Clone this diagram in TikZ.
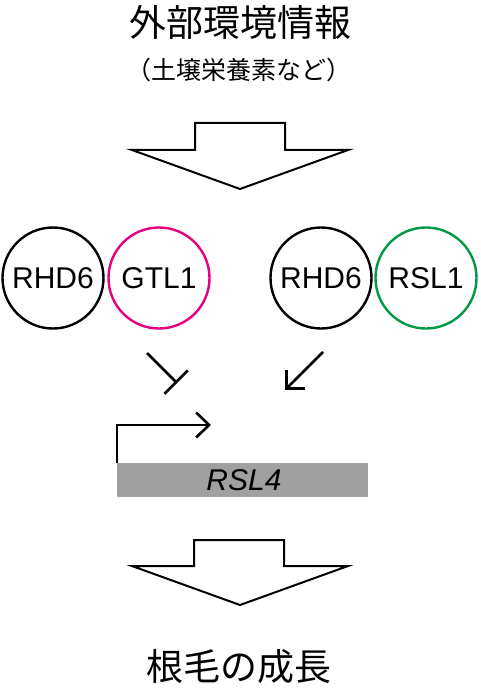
\documentclass[tikz,border=0pt]{standalone}
\usepackage{fontspec}
\setmainfont{Liberation Sans}
\newfontfamily\jp{Noto Sans CJK JP}
\usetikzlibrary{arrows.meta}
\definecolor{gtlpink}{RGB}{228,0,127}
\definecolor{rslgreen}{RGB}{0,153,68}
\definecolor{genegray}{RGB}{160,160,160}
\tikzset{
  prot/.style={circle, draw, line width=2.4pt, minimum size=101pt, inner sep=0pt, font=\fontsize{30}{32}\selectfont},
  blockarrow/.style={draw, fill=white, line width=2pt, line join=miter},
  link/.style={line width=2.6pt},
  jptitle/.style={font=\jp\fontsize{37}{40}\selectfont, inner sep=0pt},
  jpsub/.style={font=\jp\fontsize{25}{28}\selectfont, inner sep=0pt}
}
\begin{document}
\begin{tikzpicture}[x=1pt,y=-1pt]
\useasboundingbox (0,0) rectangle (480,695);
\node[jptitle] (title) at (240,22) {外部環境情報};
\node[jpsub] (sub) at (239,70) {（土壌栄養素など）};
\draw[blockarrow] (195,123) -- (285,123) -- (285,150) -- (348,150) -- (240,189) -- (132,150) -- (195,150) -- cycle;
\node[prot] (r1) at (53,278) {RHD6};
\node[prot, draw=gtlpink] (g1) at (159,278) {GTL1};
\node[prot] (r2) at (321,278) {RHD6};
\node[prot, draw=rslgreen] (s1) at (426,278) {RSL1};
\coordinate (i0) at (147,353);
\coordinate (i1) at (177,383);
\draw[link, -{Bar[width=33pt, line width=2.6pt]}] (i0) -- (i1);
\coordinate (a0) at (323,352);
\coordinate (a1) at (285,390);
\draw[link, -{Straight Barb[length=13pt, width=26pt, line width=2.6pt]}] (a0) -- (a1);
\node[fill=genegray, minimum width=251pt, minimum height=34pt, inner sep=0pt, anchor=north west] (gene) at (117,463) {};
\node[font=\fontsize{30}{32}\selectfont\itshape] (genel) at (244,480) {RSL4};
\coordinate (p0) at (117,463);
\coordinate (p1) at (117,425);
\coordinate (p2) at (211,425);
\draw[link, line join=miter, -{Straight Barb[length=13pt, width=25pt, line width=2.6pt]}] (p0) -- (p1) -- (p2);
\draw[blockarrow] (194,540) -- (284,540) -- (284,566) -- (348,566) -- (240,605) -- (132,566) -- (194,566) -- cycle;
\node[jptitle] (res) at (239,667) {根毛の成長};
\end{tikzpicture}
\end{document}
